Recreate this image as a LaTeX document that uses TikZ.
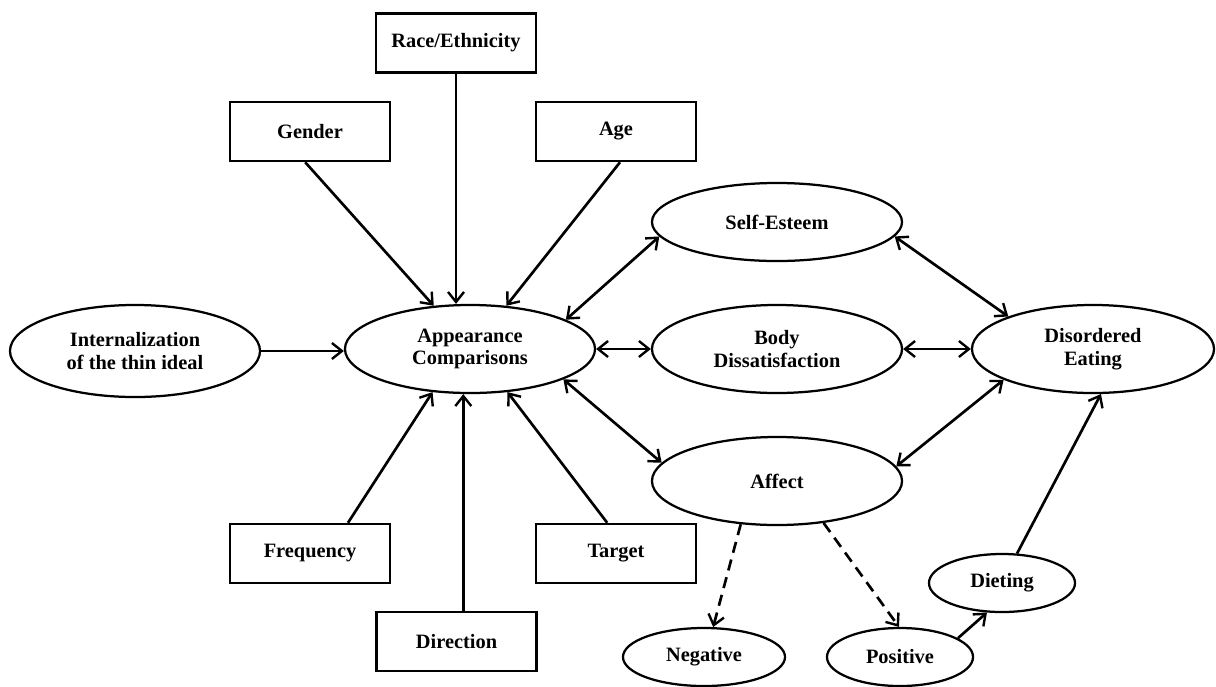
\documentclass[tikz,border=0pt]{standalone}
\usepackage{fontspec}
\setmainfont{Liberation Serif}
\usetikzlibrary{arrows.meta,shapes.geometric,shadows}
\begin{document}
\begin{tikzpicture}[x=0.025cm,y=-0.025cm,
  every node/.style={font=\bfseries\fontsize{14.5}{16}\selectfont, align=center, inner sep=0pt, fill=white},
  box/.style={draw, line width=1.9pt, minimum width=4.0cm, minimum height=1.47cm,
     drop shadow={shadow xshift=0.7pt, shadow yshift=-0.7pt, fill=black!45, opacity=0.6}},
  oval/.style={draw, ellipse, line width=1.6pt, minimum width=6.25cm, minimum height=2.2cm},
  small/.style={draw, ellipse, line width=1.6pt, minimum width=3.65cm, minimum height=1.45cm},
  tip/.style={},
  arr/.style={line width=1.9pt, -{Straight Barb[length=2.5mm,width=4mm,line width=1.7pt]}},
  darr/.style={line width=1.9pt, {Straight Barb[length=2.5mm,width=4mm,line width=1.7pt]}-{Straight Barb[length=2.5mm,width=4mm,line width=1.7pt]}},
  dash arr/.style={arr, dash pattern=on 8pt off 5pt}]
\useasboundingbox (0,0) rectangle (1216,686);

% boxes
\node[box] (race) at (456,43) {Race/Ethnicity};
\node[box] (gender) at (310,131.5) {Gender};
\node[box] (age) at (616,131.5) {Age};
\node[box] (freq) at (310,553.5) {Frequency};
\node[box] (target) at (616,553.5) {Target};
\node[box] (dir) at (456.5,641.5) {Direction};

% ellipses
\node[oval, minimum height=2.3cm] (intern) at (135,351) {Internalization\\of the thin ideal};
\node[oval] (ac) at (470,349) {Appearance\\Comparisons};
\node[oval, minimum height=1.95cm] (se) at (777,222) {Self-Esteem};
\node[oval] (bd) at (777,349) {Body\\Dissatisfaction};
\node[oval] (aff) at (777,481) {Affect};
\node[oval, minimum width=6.05cm] (de) at (1093,349) {Disordered\\Eating};
\node[small, minimum width=4.05cm] (neg) at (704,657) {Negative};
\node[small] (pos) at (900,657) {Positive};
\node[small] (diet) at (1002,583) {Dieting};

% connectors into Appearance Comparisons
\draw[arr] ([xshift=-0.12cm]gender.south) -- (ac.130);
\draw[arr] (race.south) -- (race.south |- ac.north);
\draw[arr] ([xshift=0.1cm]age.south) -- (ac.50);
\draw[arr] (intern.east) -- (intern.east -| ac.west);
\draw[arr] ([xshift=0.95cm]freq.north) -- (ac.229);
\draw[arr] ([xshift=0.17cm]dir.north) -- ([xshift=0.17cm]dir.north |- ac.south);
\draw[arr] ([xshift=-0.22cm]target.north) -- (ac.311);

% two-way connectors
\draw[darr] (ac.17) -- (se.187);
\draw[darr] (ac.east) -- (bd.west);
\draw[darr] (ac.342) -- (aff.171);
\draw[darr] (se.353) -- (de.159);
\draw[darr] (bd.east) -- (de.west);
\draw[darr] (aff.7) -- (de.199);

% affect branches
\draw[dash arr] (aff.230) -- (neg.73);
\draw[dash arr] (aff.318) -- (pos.92);
\draw[arr] (pos.18) -- (diet.243);
\draw[arr] (diet.63) -- (de.280);
\end{tikzpicture}
\end{document}
